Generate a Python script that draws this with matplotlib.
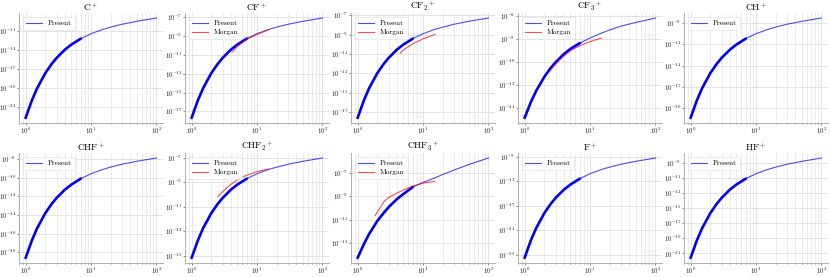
import numpy as np
import matplotlib
matplotlib.use("Agg")
import matplotlib.pyplot as plt
from matplotlib.ticker import LogLocator, NullFormatter

plt.rcParams['font.family'] = 'serif'
plt.rcParams['font.serif'] = ['cmr10', 'DejaVu Serif']
plt.rcParams['mathtext.fontset'] = 'cm'
plt.rcParams['axes.formatter.use_mathtext'] = True
plt.rcParams['axes.unicode_minus'] = False

# temperature grid (eV) shared by every "Present" curve
T = [1, 1.25, 1.5, 2, 2.5, 3, 4, 5, 7, 10, 15, 20, 30, 50, 100]
n_thick = 9  # dense part of the data ends at T = 7

titles = [r'C$^+$', r'CF$^+$', r'CF$_2{}^+$', r'CF$_3{}^+$', r'CH$^+$',
          r'CHF$^+$', r'CHF$_2{}^+$', r'CHF$_3{}^+$', r'F$^+$', r'HF$^+$']

# log10 of rate coefficient
present = [
    [-24.8, -21.99, -20.08, -17.68, -16.21, -15.21, -13.92, -13.13, -12.18, -11.40, -10.73, -10.35, -9.89, -9.42, -8.9],
    [-17.7, -15.82, -14.55, -12.95, -11.98, -11.31, -10.45, -9.92, -9.28, -8.76, -8.32, -8.06, -7.76, -7.45, -7.1],
    [-17.6, -15.78, -14.54, -12.99, -12.04, -11.39, -10.55, -10.04, -9.42, -8.92, -8.48, -8.24, -7.94, -7.64, -7.3],
    [-14.9, -13.51, -12.55, -11.33, -10.55, -10.03, -9.33, -8.90, -8.38, -7.94, -7.51, -7.24, -6.90, -6.59, -6.2],
    [-21.4, -18.90, -17.21, -15.08, -13.79, -12.90, -11.76, -11.05, -10.20, -9.51, -8.92, -8.58, -8.17, -7.77, -7.3],
    [-18.6, -16.71, -15.42, -13.81, -12.82, -12.15, -11.28, -10.75, -10.10, -9.58, -9.13, -8.87, -8.56, -8.25, -7.9],
    [-15.2, -13.75, -12.76, -11.53, -10.77, -10.26, -9.59, -9.18, -8.69, -8.29, -7.94, -7.75, -7.51, -7.27, -7.0],
    [-14.3, -13.10, -12.24, -11.12, -10.43, -9.91, -9.23, -8.80, -8.19, -7.80, -7.42, -7.12, -6.73, -6.26, -5.7],
    [-25.5, -22.61, -20.66, -18.20, -16.70, -15.67, -14.35, -13.54, -12.56, -11.76, -11.07, -10.68, -10.21, -9.74, -9.2],
    [-21.6, -19.26, -17.68, -15.69, -14.47, -13.64, -12.57, -11.91, -11.12, -10.47, -9.92, -9.60, -9.22, -8.84, -8.4],
]

# Morgan data (only some ions)
morgan_T = {
    1: [4.2, 5, 7, 10, 15],
    2: [4.5, 5, 7, 10, 15],
    3: [2.4, 3, 4, 5, 7, 10, 15],
    6: [2.5, 3, 4, 5, 7, 10, 15],
    7: [1.85, 2.5, 3, 5, 7, 10, 15],
}
morgan_k = {
    1: [-10.7, -10.1, -9.35, -8.85, -8.35],
    2: [-10.9, -10.6, -9.95, -9.45, -9.0],
    3: [-10.85, -10.2, -9.5, -9.05, -8.6, -8.25, -7.95],
    6: [-10.2, -9.75, -9.15, -8.8, -8.4, -8.12, -7.9],
    7: [-10.66, -9.48, -9.08, -8.44, -8.12, -7.86, -7.72],
}

# y tick exponents shown in each panel
yticks = [
    [-23, -20, -17, -14, -11],
    [-17, -15, -13, -11, -9, -7],
    [-17, -15, -13, -11, -9, -7],
    [-14, -12, -10, -8, -6],
    [-20, -17, -14, -11, -8],
    [-18, -16, -14, -12, -10, -8],
    [-15, -13, -11, -9, -7],
    [-13, -11, -9, -7],
    [-25, -21, -17, -13, -9],
    [-21, -19, -17, -15, -13, -11, -9],
]

W, H = 830, 277
col_left = [19, 185, 351, 518, 684]
ax_w = 144
row_top = [13, 153]
ax_h = 110

fig = plt.figure(figsize=(8.3, 2.77), dpi=100)
axes = []
for r in range(2):
    for c in range(5):
        axes.append(fig.add_axes([col_left[c] / W, 1 - (row_top[r] + ax_h) / H,
                                  ax_w / W, ax_h / H]))

Tarr = np.array(T)
for i, ax in enumerate(axes):
    k = 10.0 ** np.array(present[i])
    ax.plot(Tarr[:n_thick], k[:n_thick], color='#0000ff', lw=1.9, solid_capstyle='round')
    ax.plot(Tarr[n_thick - 1:], k[n_thick - 1:], color='blue', alpha=0.7, lw=0.8)
    ax.plot([], [], color='blue', alpha=0.7, lw=0.8, label='Present')
    if i in morgan_T:
        ax.plot(morgan_T[i], 10.0 ** np.array(morgan_k[i]), color='red', alpha=0.7,
                lw=0.8, label='Morgan')
    ax.set_xscale('log')
    ax.set_yscale('log')
    ax.set_yticks([10.0 ** e for e in yticks[i]])
    ax.yaxis.set_minor_locator(LogLocator(base=10, subs='auto', numticks=40))
    ax.yaxis.set_minor_formatter(NullFormatter())
    ax.set_xticks([1, 10, 100])
    ax.xaxis.set_minor_locator(LogLocator(base=10, subs=np.arange(2, 10), numticks=20))
    ax.xaxis.set_minor_formatter(NullFormatter())
    ax.grid(True, which='major', color='#e3e3e3', lw=0.7)
    ax.grid(True, which='minor', axis='x', color='#e8e8e8', lw=0.6)
    ax.set_axisbelow(True)
    for s in ['top', 'right']:
        ax.spines[s].set_visible(False)
    for s in ['left', 'bottom']:
        ax.spines[s].set_color('#b0b0b0')
        ax.spines[s].set_linewidth(0.7)
    ax.tick_params(which='both', labelsize=4.9, colors='#555555', length=1.5, width=0.5,
                   pad=0.6, labelcolor='#222222')
    ax.tick_params(which='minor', length=1.0)
    ax.tick_params(axis='y', which='minor', length=0)
    ax.set_title(titles[i], fontsize=6.8, pad=1.5)
    leg = ax.legend(loc='upper left', fontsize=5.2, frameon=True, handlelength=2.2,
                    borderpad=0.5, labelspacing=0.4, fancybox=True)
    leg.get_frame().set_edgecolor('#dddddd')
    leg.get_frame().set_linewidth(0.5)

fig.savefig('out.png', dpi=100)
